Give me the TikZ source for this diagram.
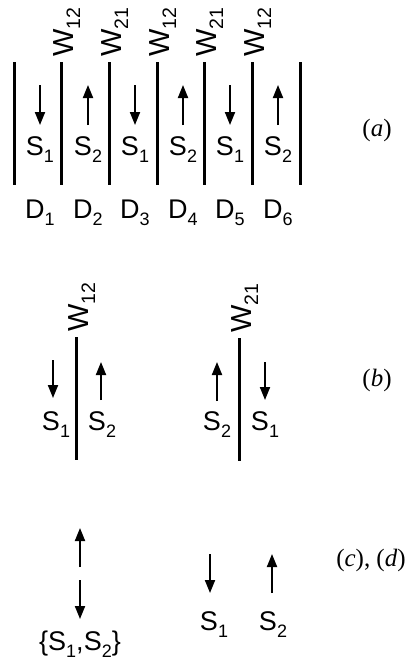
\documentclass[tikz,border=0pt]{standalone}
\usepackage{fontspec}
\setmainfont{Liberation Sans}
\newfontfamily\labfont{Liberation Serif}
\usetikzlibrary{arrows.meta}
\newcommand{\subs}[1]{\raisebox{-7pt}{\fontsize{18}{19}\selectfont #1}}
\newcommand{\wsubs}[1]{\raisebox{-7pt}{\fontsize{19.5}{20}\selectfont #1}}
\tikzset{
  wall/.style={line width=3pt},
  spin/.style={line width=1.9pt,-{Triangle[length=13pt,width=10pt]}},
  lab/.style={inner sep=0pt,font=\fontsize{27}{30}\selectfont},
  wlab/.style={inner sep=0pt,rotate=90,anchor=base west,font=\fontsize{29}{32}\selectfont},
  part/.style={inner sep=0pt,font=\labfont\fontsize{25}{27}\selectfont}
}
\begin{document}
\begin{tikzpicture}[x=1pt,y=-1pt]
\useasboundingbox (0,0) rectangle (405,664);
% ---------- (a)
\foreach \i/\x in {0/14,1/61,2/109,3/157,4/204,5/252,6/300}{
  \coordinate (at\i) at (\x,62);
  \coordinate (ab\i) at (\x,185);
  \draw[wall] (at\i) -- (ab\i);
}
\foreach \i/\x/\w in {1/61/12,2/109/21,3/157/12,4/204/21,5/252/12}{
  \node[wlab] (wa\i) at (\x+12,57) {W\wsubs{\w}};
}
\foreach \i/\x/\s in {1/40/1,2/88/2,3/135/1,4/183/2,5/230/1,6/278/2}{
  \coordinate (pu\i) at (\x,85);
  \coordinate (pd\i) at (\x,125);
  \node[lab,anchor=base] (sa\i) at (\x,155) {S\subs{\s}};
  \node[lab,anchor=base] (da\i) at (\x,218) {D\subs{\i}};
}
\foreach \i in {1,3,5}{\draw[spin] (pu\i) -- (pd\i);}
\foreach \i in {2,4,6}{\draw[spin] (pd\i) -- (pu\i);}
\node[part] (la) at (377,130) {(\textit{a})};
% ---------- (b)
\coordinate (bt1) at (76,337); \coordinate (bb1) at (76,460);
\coordinate (bt2) at (239,338); \coordinate (bb2) at (239,461);
\draw[wall] (bt1) -- (bb1);
\draw[wall] (bt2) -- (bb2);
\node[wlab] (wb1) at (88,332) {W\wsubs{12}};
\node[wlab] (wb2) at (251,333) {W\wsubs{21}};
\coordinate (b1u) at (53,360); \coordinate (b1d) at (53,398);
\coordinate (b2u) at (101,362); \coordinate (b2d) at (101,400);
\coordinate (b3u) at (217,362); \coordinate (b3d) at (217,401);
\coordinate (b4u) at (265,362); \coordinate (b4d) at (265,400);
\draw[spin] (b1u) -- (b1d);
\draw[spin] (b2d) -- (b2u);
\draw[spin] (b3d) -- (b3u);
\draw[spin] (b4u) -- (b4d);
\node[lab,anchor=base] (sb1) at (56,430) {S\subs{1}};
\node[lab,anchor=base] (sb2) at (102,430) {S\subs{2}};
\node[lab,anchor=base] (sb3) at (217,430) {S\subs{2}};
\node[lab,anchor=base] (sb4) at (265,430) {S\subs{1}};
\node[part] (lb) at (377,380) {(\textit{b})};
% ---------- (c), (d)
\coordinate (c1a) at (80,567); \coordinate (c1b) at (80,528);
\coordinate (c2a) at (80,580); \coordinate (c2b) at (80,619);
\draw[spin] (c1a) -- (c1b);
\draw[spin] (c2a) -- (c2b);
\node[lab,anchor=base] (sc) at (80,650) {\{S\subs{1},S\subs{2}\}};
\coordinate (d1a) at (210,554); \coordinate (d1b) at (210,593);
\coordinate (d2a) at (272,593); \coordinate (d2b) at (272,554);
\draw[spin] (d1a) -- (d1b);
\draw[spin] (d2a) -- (d2b);
\node[lab,anchor=base] (sd1) at (214,630) {S\subs{1}};
\node[lab,anchor=base] (sd2) at (273,630) {S\subs{2}};
\node[part] (lc) at (371,560) {(\textit{c}), (\textit{d})};
\end{tikzpicture}
\end{document}
